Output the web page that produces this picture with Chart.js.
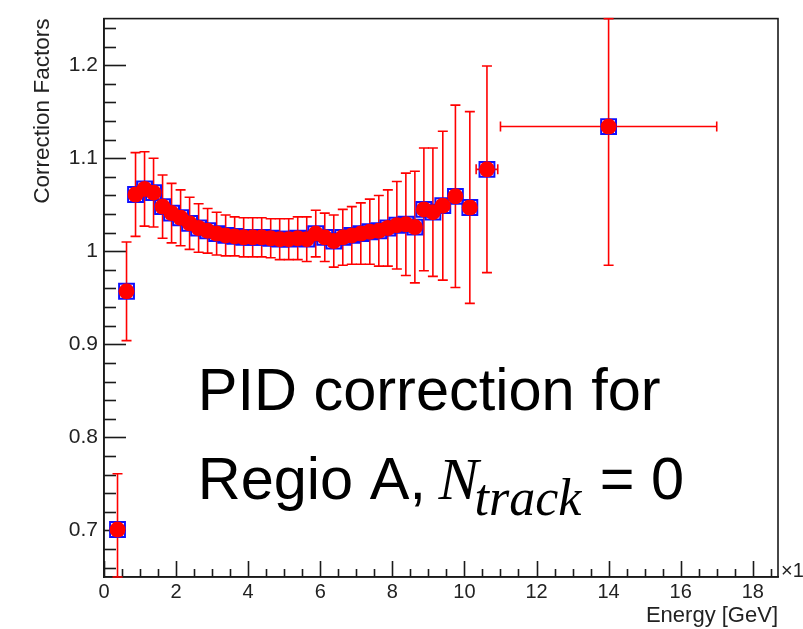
<!DOCTYPE html>
<html>
<head>
<meta charset="utf-8">
<script src="https://cdn.jsdelivr.net/npm/chart.js@4.4.1/dist/chart.umd.min.js"></script>
<style>
    body { margin: 0; background: #fff; }
    canvas { display: block; }
</style>
</head>
<body>
<canvas id="graficoPid" width="803" height="629"></canvas>
<script>
// valores
const energia = [0.375, 0.625, 0.875, 1.125, 1.375, 1.625, 1.875, 2.125, 2.375, 2.625,
    2.875, 3.125, 3.375, 3.625, 3.875, 4.125, 4.375, 4.625, 4.875, 5.125,
    5.375, 5.625, 5.875, 6.125, 6.375, 6.625, 6.875, 7.125, 7.375, 7.625,
    7.875, 8.125, 8.375, 8.625, 8.875, 9.125, 9.4, 9.75, 10.15, 10.625, 14.0];
const fator = [0.701, 0.957, 1.061, 1.067, 1.063, 1.048, 1.041, 1.036, 1.030, 1.025,
    1.022, 1.019, 1.017, 1.016, 1.015, 1.015, 1.015, 1.014, 1.013, 1.013,
    1.014, 1.013, 1.019, 1.015, 1.011, 1.015, 1.017, 1.019, 1.021, 1.022,
    1.025, 1.028, 1.029, 1.026, 1.045, 1.042, 1.049, 1.059, 1.047, 1.088, 1.134];
const erroY = [0.060, 0.053, 0.045, 0.040, 0.037, 0.034, 0.032, 0.030, 0.028, 0.026,
    0.024, 0.023, 0.022, 0.021, 0.021, 0.021, 0.021, 0.021, 0.022, 0.022,
    0.023, 0.024, 0.025, 0.026, 0.028, 0.030, 0.031, 0.033, 0.035, 0.038,
    0.041, 0.047, 0.055, 0.060, 0.066, 0.069, 0.080, 0.098, 0.103, 0.111, 0.149];
const erroX = [0, 0, 0, 0, 0, 0, 0, 0, 0, 0,
    0, 0, 0, 0, 0, 0, 0, 0, 0, 0,
    0, 0, 0, 0, 0, 0, 0, 0, 0, 0,
    0, 0, 0, 0, 0, 0, 0, 0, 0, 0.3, 3.0];
const ticksX = [0, 2, 4, 6, 8, 10, 12, 14, 16, 18];
const ticksY = [0.7, 0.8, 0.9, 1.0, 1.1, 1.2];

const pontos = energia.map((e, i) => ({ x: e, y: fator[i] }));

const fonteSans = "'Liberation Sans', Arial, Helvetica, sans-serif";
const fonteSerif = "'Liberation Serif', 'Times New Roman', serif";

const vermelho = "#ff0000";

function linha(ctx, x1, y1, x2, y2) {
    ctx.beginPath();
    ctx.moveTo(x1, y1);
    ctx.lineTo(x2, y2);
    ctx.stroke();
}

const estiloRoot = {
    id: "estiloRoot",
    beforeDatasetsDraw(grafico) {
        const { ctx, chartArea, scales } = grafico;
        const { left, right, top, bottom } = chartArea;

        // marcas dos eixos, viradas para dentro
        ctx.save();
        ctx.strokeStyle = "#1a1a1a";
        ctx.lineWidth = 1.6;
        for (let k = 33; k <= 62; k++) {
            const y = Math.round(scales.y.getPixelForValue(k * 0.02)) + 0.5;
            const tam = k % 5 === 0 ? 22 : 12;
            linha(ctx, left, y, left + tam, y);
        }
        for (let k = 0; k <= 37; k++) {
            const x = Math.round(scales.x.getPixelForValue(k * 0.5)) + 0.5;
            const tam = k % 4 === 0 ? 16 : 8;
            linha(ctx, x, bottom, x, bottom - tam);
        }
        ctx.strokeRect(left, top, right - left, bottom - top);
        ctx.restore();

        // barras de erro
        ctx.save();
        ctx.beginPath();
        ctx.rect(left - 1, top - 1, right - left + 2, bottom - top + 2);
        ctx.clip();
        ctx.strokeStyle = vermelho;
        ctx.lineWidth = 1.6;
        const cap = 5;
        energia.forEach((e, i) => {
            const x = scales.x.getPixelForValue(e);
            const y = scales.y.getPixelForValue(fator[i]);
            const y1 = Math.max(top, scales.y.getPixelForValue(fator[i] + erroY[i]));
            const y2 = Math.min(bottom, scales.y.getPixelForValue(fator[i] - erroY[i]));
            linha(ctx, x, y1, x, y2);
            linha(ctx, x - cap, y1, x + cap, y1);
            linha(ctx, x - cap, y2, x + cap, y2);
            if (erroX[i] > 0) {
                const x1 = scales.x.getPixelForValue(e - erroX[i]);
                const x2 = scales.x.getPixelForValue(e + erroX[i]);
                linha(ctx, x1, y, x2, y);
                linha(ctx, x1, y - cap, x1, y + cap);
                linha(ctx, x2, y - cap, x2, y + cap);
            }
        });
        ctx.restore();
    },
    afterDraw(grafico) {
        const { ctx, chartArea, scales } = grafico;
        ctx.save();
        ctx.textBaseline = "alphabetic";

        ctx.font = "20px " + fonteSans;
        ctx.fillStyle = "#222";
        ctx.fillText("\u00d71", chartArea.right + 3, chartArea.bottom);

        // texto da anotacao
        ctx.fillStyle = "#000";
        const x0 = scales.x.getPixelForValue(2.6);
        const y1 = scales.y.getPixelForValue(0.8295);
        const y2 = scales.y.getPixelForValue(0.7335);
        ctx.font = "59.5px " + fonteSans;
        ctx.fillText("PID correction for", x0, y1);
        let x = x0;
        ctx.fillText("Regio A, ", x, y2);
        x += ctx.measureText("Regio A, ").width - 4;
        ctx.font = "italic 60px " + fonteSerif;
        ctx.fillText("N", x, y2);
        x += ctx.measureText("N").width - 4;
        ctx.font = "italic 52px " + fonteSerif;
        ctx.fillText("track", x, y2 + 16);
        x += ctx.measureText("track").width + 2;
        ctx.font = "59.5px " + fonteSans;
        ctx.fillText(" = 0", x, y2);
        ctx.restore();
    },
};

const canvasGraficoPid = document.getElementById("graficoPid");
const graficoPid = new Chart(canvasGraficoPid, {
    type: "scatter",
    data: {
        datasets: [
            {
                label: "Correction Factors",
                data: pontos,
                pointStyle: "circle",
                pointRadius: 8,
                pointHoverRadius: 8,
                backgroundColor: vermelho,
                borderColor: vermelho,
                borderWidth: 0,
            },
            {
                label: "Correction Factors (contorno)",
                data: pontos,
                pointStyle: "rect",
                pointRadius: 10.5,
                pointHoverRadius: 10.5,
                backgroundColor: "rgba(0,0,0,0)",
                borderColor: "#1010ff",
                borderWidth: 2,
            },
        ],
    },
    options: {
        responsive: false,
        animation: false,
        devicePixelRatio: 1,
        layout: { padding: { top: 15, right: 25, left: 0, bottom: 0 } },
        plugins: {
            legend: { display: false },
            tooltip: { enabled: false },
        },
        scales: {
            x: {
                type: "linear",
                min: 0,
                max: 18.7,
                afterBuildTicks: (eixo) => {
                    eixo.ticks = ticksX.map((v) => ({ value: v }));
                },
                afterFit: (eixo) => {
                    eixo.height = 52;
                },
                grid: { display: false, drawTicks: false },
                border: { display: true, color: "#1a1a1a", width: 1.6 },
                ticks: {
                    color: "#222",
                    padding: 3,
                    maxRotation: 0,
                    font: { family: fonteSans, size: 20 },
                    callback: (v) => String(v),
                },
                title: {
                    display: true,
                    text: "Energy [GeV]",
                    align: "end",
                    color: "#222",
                    padding: { top: 0, bottom: 0 },
                    font: { family: fonteSans, size: 22 },
                },
            },
            y: {
                type: "linear",
                min: 0.65,
                max: 1.25,
                afterBuildTicks: (eixo) => {
                    eixo.ticks = ticksY.map((v) => ({ value: v }));
                },
                afterFit: (eixo) => {
                    eixo.width = 104;
                },
                grid: { display: false, drawTicks: false },
                border: { display: true, color: "#1a1a1a", width: 1.6 },
                ticks: {
                    color: "#222",
                    padding: 6,
                    font: { family: fonteSans, size: 21 },
                    callback: (v) => String(Math.round(v * 10) / 10),
                },
                title: {
                    display: true,
                    text: "Correction Factors",
                    align: "end",
                    color: "#222",
                    padding: { top: 29, bottom: 0 },
                    font: { family: fonteSans, size: 22.5 },
                },
            },
        },
    },
    plugins: [estiloRoot],
});
</script>
</body>
</html>
